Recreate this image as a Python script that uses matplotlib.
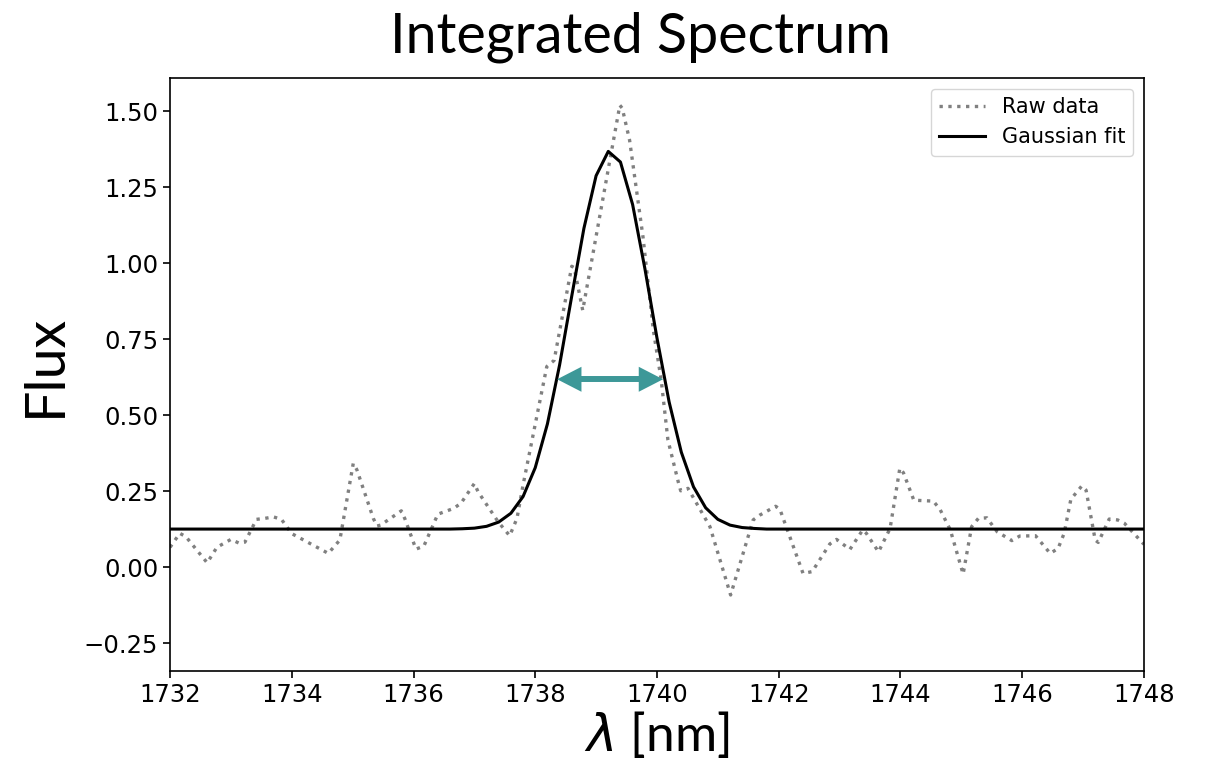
import matplotlib
matplotlib.use('Agg')
import matplotlib.pyplot as plt

# raw spectrum (turning points)
raw_wl = [1732.00, 1732.16, 1732.26, 1732.61, 1732.77, 1733.00, 1733.13, 1733.23,
          1733.42, 1733.55, 1733.70, 1733.83, 1734.00, 1734.60, 1734.79, 1735.01,
          1735.07, 1735.34, 1735.40, 1735.46, 1735.80, 1735.86, 1736.04, 1736.17,
          1736.40, 1736.66, 1736.78, 1737.00, 1737.06, 1737.39, 1737.58, 1737.70,
          1737.80, 1738.19, 1738.31, 1738.60, 1738.64, 1738.78, 1739.39, 1739.43,
          1739.55, 1739.77, 1739.94, 1740.07, 1740.18, 1740.35, 1740.39, 1740.51,
          1740.87, 1741.21, 1741.58, 1741.69, 1741.95, 1742.02, 1742.40, 1742.55,
          1742.84, 1742.95, 1743.17, 1743.38, 1743.44, 1743.64, 1743.83, 1743.99,
          1744.05, 1744.22, 1744.54, 1744.65, 1744.82, 1745.03, 1745.17, 1745.28,
          1745.42, 1745.59, 1745.83, 1745.96, 1746.22, 1746.46, 1746.59, 1746.69,
          1746.80, 1746.98, 1747.05, 1747.20, 1747.25, 1747.43, 1747.57, 1747.68,
          1748.00]
raw_flux = [0.065, 0.111, 0.100, 0.014, 0.065, 0.091, 0.079, 0.082,
            0.157, 0.160, 0.165, 0.157, 0.110, 0.045, 0.089, 0.341,
            0.320, 0.160, 0.135, 0.138, 0.185, 0.158, 0.059, 0.069,
            0.174, 0.193, 0.210, 0.275, 0.248, 0.149, 0.103, 0.160,
            0.270, 0.660, 0.680, 0.990, 0.985, 0.845, 1.520, 1.510,
            1.405, 1.087, 0.780, 0.615, 0.418, 0.280, 0.251, 0.259,
            0.133, -0.092, 0.155, 0.171, 0.200, 0.190, -0.021, -0.015,
            0.076, 0.091, 0.058, 0.122, 0.111, 0.050, 0.127, 0.325,
            0.310, 0.220, 0.217, 0.190, 0.122, -0.023, 0.133, 0.160,
            0.162, 0.116, 0.087, 0.102, 0.103, 0.045, 0.061, 0.111,
            0.223, 0.267, 0.253, 0.089, 0.081, 0.158, 0.155, 0.144,
            0.075]

# gaussian fit, sampled every 0.2 nm around the line
fit_wl = [1732.0, 1736.6, 1736.8, 1737.0, 1737.2, 1737.4, 1737.6, 1737.8, 1738.0,
          1738.2, 1738.4, 1738.6, 1738.8, 1739.0, 1739.2, 1739.4, 1739.6, 1739.8,
          1740.0, 1740.2, 1740.4, 1740.6, 1740.8, 1741.0, 1741.2, 1741.4, 1741.6,
          1741.8, 1748.0]
fit_flux = [0.125, 0.125, 0.126, 0.128, 0.134, 0.148, 0.177, 0.232, 0.327,
            0.471, 0.665, 0.892, 1.115, 1.288, 1.368, 1.333, 1.193, 0.984,
            0.754, 0.543, 0.378, 0.264, 0.195, 0.157, 0.138, 0.130, 0.127,
            0.125, 0.125]

# FWHM marker
fwhm_left = 1738.36
fwhm_right = 1740.10
half_level = 0.618

teal = '#3d9898'

fig = plt.figure(figsize=(12.06, 7.59), dpi=100)
ax = fig.add_axes([0.141, 0.116, 0.8075, 0.781])

ax.plot(raw_wl, raw_flux, color='gray', linestyle=':', lw=2.4, label='Raw data')
ax.plot(fit_wl, fit_flux, color='black', lw=2.2, label='Gaussian fit')

# arrow: shaft + filled heads
ax.plot([fwhm_left + 0.3, fwhm_right - 0.3], [half_level, half_level],
        color=teal, lw=4.3, solid_capstyle='butt')
ax.annotate('', xy=(fwhm_right, half_level), xytext=(fwhm_left, half_level),
            arrowprops=dict(arrowstyle='<|-|>,head_length=1.75,head_width=0.9',
                            mutation_scale=10, lw=0, color=teal,
                            shrinkA=0, shrinkB=0))

ax.set_xlim(1732, 1748)
ax.set_ylim(-0.342, 1.609)
ax.set_xticks(range(1732, 1749, 2))
ax.set_yticks([-0.25, 0.0, 0.25, 0.5, 0.75, 1.0, 1.25, 1.5])
ax.set_yticklabels(['\u22120.25', '0.00', '0.25', '0.50', '0.75', '1.00', '1.25', '1.50'])
ax.tick_params(labelsize=17.5, length=5, width=1.2)
for s in ax.spines.values():
    s.set_linewidth(1.2)

ax.legend(loc='upper right', fontsize=15, handlelength=2.2)

fig.text(640 / 1206, 1 - 37 / 759, 'Integrated Spectrum', ha='center', va='center',
         fontsize=40, family='Lato')
fig.text(45 / 1206, 1 - 365 / 759, 'Flux', ha='center', va='center', rotation=90,
         fontsize=40, family='Lato')
fig.text(657 / 1206, 1 - 734 / 759, r'$\lambda$ [nm]', ha='center', va='center',
         fontsize=37, family='Lato')

fig.savefig('out.png', dpi=100)
